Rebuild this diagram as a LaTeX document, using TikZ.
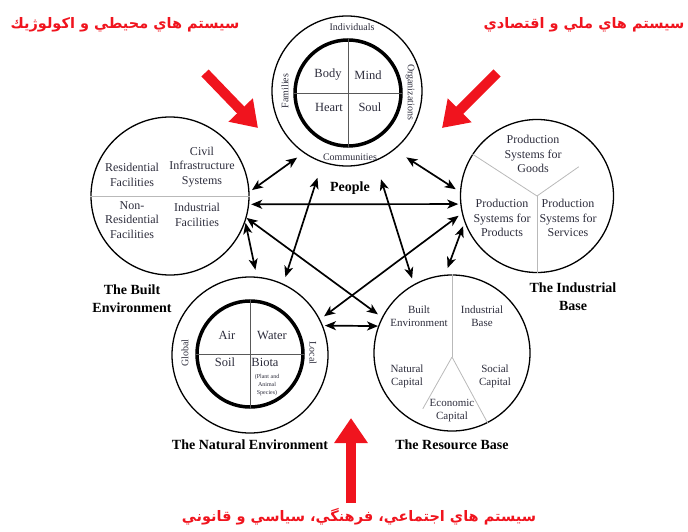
\documentclass[tikz,border=0pt]{standalone}
\usepackage{fontspec}
\setmainfont{Liberation Serif}
\newfontfamily\arabicfont[Script=Arabic]{DejaVu Sans}
\TeXXeTstate=1
\usetikzlibrary{arrows.meta,calc}
\definecolor{txt}{RGB}{45,45,60}
\definecolor{redarrow}{RGB}{240,20,30}
\begin{document}
\begin{tikzpicture}[x=1pt,y=-1pt,
  outer/.style={circle,draw=black,line width=1.3pt,inner sep=0pt},
  innerc/.style={circle,draw=black,line width=3.5pt,inner sep=0pt},
  divider/.style={draw=gray!70!black,line width=0.8pt},
  lightdiv/.style={draw=gray!55,line width=0.8pt},
  cell/.style={text=txt,align=center,inner sep=0pt,font=\fontsize{12}{14.5}\selectfont},
  bigcell/.style={text=txt,align=center,inner sep=0pt,font=\fontsize{12.5}{15}\selectfont},
  smallcell/.style={text=txt,align=center,inner sep=0pt,font=\fontsize{11}{13}\selectfont},
  ringtext/.style={text=txt,inner sep=0pt,font=\fontsize{10}{12}\selectfont},
  tinycell/.style={text=txt,align=center,inner sep=0pt,font=\fontsize{6}{8}\selectfont},
  title/.style={align=center,inner sep=0pt,font=\fontsize{14}{18}\selectfont\bfseries},
  link/.style={line width=1.7pt,{Stealth[length=11pt,width=9pt,inset=3pt]}-{Stealth[length=11pt,width=9pt,inset=3pt]}},
  bigarrow/.style={draw=redarrow,line width=10pt,-{Triangle[length=25pt,width=32pt]}},
  persian/.style={text=redarrow,inner sep=0pt,font=\arabicfont\bfseries\fontsize{14.5}{18}\selectfont}
]
\useasboundingbox (0,0) rectangle (688,532);

% People
\node[outer,minimum size=150pt] (P) at (347,91) {};
\node[innerc,minimum size=106pt] (Pin) at (348,93) {};
\draw[divider] (Pin.west) -- (Pin.east);
\draw[divider] (Pin.north) -- (Pin.south);
\node[bigcell] (body) at (328,75) {Body};
\node[bigcell] (mind) at (368,75) {Mind};
\node[bigcell] (heart) at (329,107) {Heart};
\node[bigcell] (soul) at (370,107) {Soul};
\node[ringtext] (indiv) at (352,27) {Individuals};
\node[ringtext] (comm) at (350,157) {Communities};
\node[ringtext,rotate=90] (fam) at (285,91) {Families};
\node[ringtext,rotate=-90] (org) at (410,92) {Organizations};
\node[title] (Plab) at (350,188) {People};

% Built environment
\node[outer,minimum size=158pt] (B) at (170,196) {};
\draw[lightdiv] (B.west) -- (B.east);
\node[cell] (res) at (132,175) {Residential\\Facilities};
\node[cell] (civ) at (202,167) {Civil\\Infrastructure\\Systems};
\node[cell] (nonres) at (132,220) {Non-\\Residential\\Facilities};
\node[cell] (indf) at (197,215) {Industrial\\Facilities};
\node[title] (Blab) at (132,299) {The Built\\Environment};

% Industrial base
\node[outer,minimum size=153pt] (I) at (537,196) {};
\draw[lightdiv] (I.center) -- (I.147);
\draw[lightdiv] (I.center) -- (I.south);
\draw[lightdiv] (I.center) -- ($(I.center)!0.66!(I.35)$);
\node[cell] (goods) at (533,154) {Production\\Systems for\\Goods};
\node[cell] (prod) at (502,218) {Production\\Systems for\\Products};
\node[cell] (serv) at (568,218) {Production\\Systems for\\Services};
\node[title] (Ilab) at (573,297) {The Industrial\\Base};

% Natural environment
\node[outer,minimum size=156pt] (N) at (250,355) {};
\node[innerc,minimum size=106pt] (Nin) at (250,354) {};
\draw[divider] (Nin.west) -- (Nin.east);
\draw[divider] (Nin.north) -- (Nin.south);
\node[bigcell] (air) at (227,335) {Air};
\node[bigcell] (water) at (272,335) {Water};
\node[bigcell] (soil) at (225,362) {Soil};
\node[bigcell] (biota) at (265,362) {Biota};
\node[tinycell] (species) at (267,385) {(Plant and\\Animal\\Species)};
\node[ringtext,rotate=90] (glob) at (185,353) {Global};
\node[ringtext,rotate=-90] (loc) at (313,353) {Local};
\node[title] (Nlab) at (250,445) {The Natural Environment};

% Resource base
\node[outer,minimum size=156pt] (R) at (452,353) {};
\coordinate (rc) at (452,357);
\draw[lightdiv] (R.north) -- (rc);
\draw[lightdiv] (rc) -- (R.-63);
\draw[lightdiv] (rc) -- ($(rc)!0.79!(R.-118)$);
\node[smallcell] (rbe) at (419,316) {Built\\Environment};
\node[smallcell] (rib) at (482,316) {Industrial\\Base};
\node[smallcell] (rnc) at (407,376) {Natural\\Capital};
\node[smallcell] (rsc) at (495,376) {Social\\Capital};
\node[smallcell] (rec) at (452,411) {Economic\\Capital};
\node[title] (Rlab) at (452,445) {The Resource Base};

% connectors
\draw[link,shorten <=8pt,shorten >=3pt] (P.235) -- (B.3);
\draw[link,shorten <=14pt,shorten >=5pt] (P.309) -- (I.177);
\draw[link,shorten <=2pt,shorten >=2pt] (B.354) -- (I.186);
\draw[link,shorten <=1pt,shorten >=7pt] (B.341) -- (N.85);
\draw[link,shorten >=5pt] (B.344) -- (R.153);
\draw[link,shorten <=16pt,shorten >=7pt] (P.251) -- (N.65);
\draw[link,shorten <=19pt,shorten >=6pt] (P.292) -- (R.119);
\draw[link,shorten <=4pt,shorten >=5pt] (I.193) -- (N.27);
\draw[link,shorten <=4pt,shorten >=7pt] (I.200) -- (R.95);
\draw[link,shorten <=2pt] (N.22) -- (R.160);

% red arrows
\coordinate (tlA) at (205,73);
\coordinate (tlB) at (258,128);
\coordinate (trA) at (497,73);
\coordinate (trB) at (442,128);
\coordinate (btA) at (351,503);
\coordinate (btB) at (351,418);
\draw[bigarrow] (tlA) -- (tlB);
\draw[bigarrow] (trA) -- (trB);
\draw[bigarrow] (btA) -- (btB);

% Persian captions
\node[persian] (captl) at (125,25) {\beginR سيستم هاي محيطي و اكولوژيك\endR};
\node[persian] (captr) at (584,25) {\beginR سيستم هاي ملي و اقتصادي\endR};
\node[persian] (capb) at (359,517) {\beginR سيستم هاي اجتماعي، فرهنگي، سياسي و قانوني\endR};
\end{tikzpicture}
\end{document}
